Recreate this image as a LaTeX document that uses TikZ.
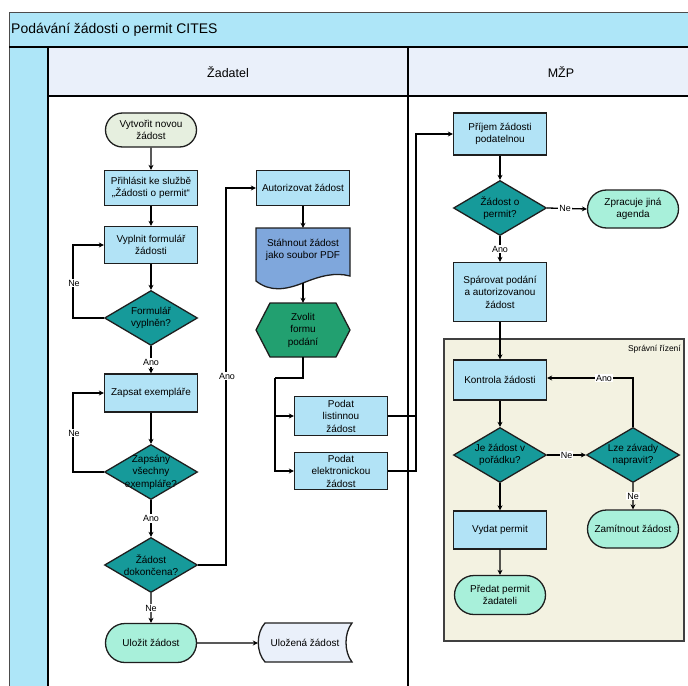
\documentclass[tikz,border=0pt]{standalone}
\usepackage{fontspec}
\setmainfont{Liberation Sans}
\usetikzlibrary{shapes.geometric,shapes.misc,arrows.meta}
\definecolor{titlebg}{HTML}{AEE6F8}
\definecolor{headbg}{HTML}{EAF0FA}
\definecolor{procfill}{HTML}{B2E3F6}
\definecolor{decfill}{HTML}{169A9A}
\definecolor{termfill}{HTML}{A8F0DA}
\definecolor{startfill}{HTML}{E6EFDF}
\definecolor{docfill}{HTML}{7FA7DC}
\definecolor{hexfill}{HTML}{22A070}
\definecolor{storefill}{HTML}{EAF0FA}
\definecolor{contfill}{HTML}{F3F2E1}
\definecolor{edge}{HTML}{1E1E1E}
\tikzset{
  txt/.style={align=center, font=\fontsize{10}{12.5}\selectfont, inner sep=1bp},
  base/.style={txt, draw=edge, line width=1.3bp},
  proc/.style={base, rectangle, fill=procfill, minimum width=93bp, minimum height=#1},
  proc/.default=37bp,
  term/.style={base, rounded rectangle, fill=termfill, minimum width=93bp, minimum height=#1},
  term/.default=38bp,
  dec/.style={draw=edge, line width=1.3bp, diamond, fill=decfill, minimum width=93bp, minimum height=55bp, aspect=1.7, inner sep=0bp},
  shapebox/.style={txt, minimum width=94bp, minimum height=#1},
  arr/.style={-{Stealth[length=5bp,width=5bp]}, line width=1.3bp, draw=black},
  lab/.style={fill=white, inner sep=1bp, font=\fontsize{9}{10}\selectfont},
  lane/.style={black, line width=1.3bp}
}
\begin{document}
\begin{tikzpicture}[x=1bp,y=-1bp]
\useasboundingbox (0,0) rectangle (688,686);
\clip (0,0) rectangle (688,686);
\fill[white] (0,0) rectangle (688,686);
% pool and lanes
\draw[fill=titlebg, draw=gray!60!black, line width=1bp] (9,13) rectangle (700,47);
\fill[titlebg] (9,47) rectangle (48,700);
\fill[headbg] (48,47) rectangle (700,96);
\draw[gray!60!black, line width=1bp] (9,13) -- (9,700);
\draw[black, line width=2bp] (9,47) -- (700,47);
\draw[lane] (48,47) -- (48,700);
\draw[lane] (48,96) -- (700,96);
\draw[lane] (408,47) -- (408,700);
\node[anchor=west, font=\fontsize{14}{16}\selectfont, inner sep=1bp] (title) at (10,30) {Podávání žádosti o permit CITES};
\node[font=\fontsize{12.5}{14}\selectfont] (lane1) at (228,72) {Žadatel};
\node[font=\fontsize{12.5}{14}\selectfont] (lane2) at (561,72) {MŽP};
% container
\draw[fill=contfill, draw=edge!85, line width=1.2bp] (444,339) rectangle (684,641);
\node[anchor=north east, font=\fontsize{8.5}{9}\selectfont, inner sep=1bp] (sr) at (682,344) {Správní řízení};

% Applicant lane
\node[term=34bp, fill=startfill] (start) at (151,130) {Vytvořit novou\\žádost};
\node[proc=35bp] (login) at (151,188) {Přihlásit ke službě\\„Žádosti o permit“};
\node[proc] (fill) at (151,245) {Vyplnit formulář\\žádosti};
\node[dec] (d1) at (151,318) {};
\node[txt] (d1t) at (d1.center) {Formulář\\vyplněn?};
\node[proc=38bp] (spec) at (151,393) {Zapsat exempláře};
\node[dec] (d2) at (151,472) {};
\node[txt] (d2t) at (d2.center) {Zapsány\\všechny\\exempláře?};
\node[dec] (d3) at (151,565) {};
\node[txt] (d3t) at (d3.center) {Žádost\\dokončena?};
\node[term=39bp] (save) at (151,643) {Uložit žádost};
% stored data
\draw[fill=storefill, draw=edge, line width=1.3bp] (265,623) -- (352,623) .. controls (344,633) and (344,652) .. (352,662) -- (265,662) .. controls (256,652) and (256,633) .. (265,623) -- cycle;
\node[shapebox=39bp] (store) at (305,643) {Uložená žádost};

\node[proc=35bp] (auth) at (303,188) {Autorizovat žádost};
% document
\draw[fill=docfill, draw=edge, line width=1.3bp] (256,228) -- (350,228) -- (350,276) .. controls (335,272) and (320,276) .. (303,283) .. controls (285,290) and (270,292) .. (256,281) -- cycle;
\node[shapebox=44bp] (doc) at (303,250) {Stáhnout žádost\\jako soubor PDF};
\coordinate (docb) at (303,283);
% hexagon
\draw[fill=hexfill, draw=edge, line width=1.3bp] (256,330) -- (270,303) -- (336,303) -- (350,330) -- (336,357) -- (270,357) -- cycle;
\node[shapebox=54bp] (hex) at (303,330) {Zvolit\\formu\\podání};
\node[proc=39bp] (paper) at (341,416) {Podat\\listinnou\\žádost};
\node[proc=37bp] (elec) at (341,471) {Podat\\elektronickou\\žádost};
\coordinate (split) at (275,378);
\coordinate (merge) at (416,416);

% MZP lane
\node[proc=42bp] (recv) at (500,134) {Příjem žádosti\\podatelnou};
\node[dec] (d4) at (500,208) {};
\node[txt] (d4t) at (d4.center) {Žádost o\\permit?};
\node[term=38bp] (other) at (633,209) {Zpracuje jiná\\agenda};
\node[proc=59bp] (pair) at (500,292) {Spárovat podání\\a autorizovanou\\žádost};
\node[proc=40bp] (check) at (500,380) {Kontrola žádosti};
\node[dec] (d5) at (500,455) {};
\node[txt] (d5t) at (d5.center) {Je žádost v\\pořádku?};
\node[dec] (d6) at (633,455) {};
\node[txt] (d6t) at (d6.center) {Lze závady\\napravit?};
\node[term=38bp] (reject) at (633,529) {Zamítnout žádost};
\node[proc=38bp] (issue) at (500,530) {Vydat permit};
\node[term=39bp] (hand) at (500,595) {Předat permit\\žadateli};

% connectors applicant
\draw[arr] (start) -- (login);
\draw[arr] (login) -- (fill);
\draw[arr] (fill) -- (d1);
\draw[arr] (d1) -- (spec) node[lab, pos=0.6] {Ano};
\draw[arr] (d1.west) -- (73,318) |- (fill.west);
\node[lab] (ne1) at (74,283) {Ne};
\draw[arr] (spec) -- (d2);
\draw[arr] (d2.west) -- (73,472) |- (spec.west);
\node[lab] (ne2) at (74,433) {Ne};
\draw[arr] (d2) -- (d3) node[lab, pos=0.5] {Ano};
\draw[arr] (d3) -- (save) node[lab, pos=0.5] {Ne};
\draw[arr] (d3.east) -- (226,565) |- (auth.west);
\node[lab] (ano3) at (227,376) {Ano};
\draw[arr] (save) -- (store.west);
\draw[arr] (auth) -- (doc.north);
\draw[arr] (docb) -- (hex.north);
\draw[line width=1.3bp] (hex.south) -- (303,378) -- (split);
\draw[arr] (split) |- (paper.west);
\draw[arr] (split) |- (elec.west);
\draw[arr] (paper.east) -- (merge) |- (recv.west);
\draw[line width=1.3bp] (elec.east) -- (416,471) -- (merge);

% connectors MZP
\draw[arr] (recv) -- (d4);
\draw[arr] (d4.east) -- (other.west) node[lab, pos=0.45] {Ne};
\draw[arr] (d4) -- (pair) node[lab, pos=0.5] {Ano};
\draw[arr] (pair) -- (check);
\draw[arr] (check) -- (d5);
\draw[arr] (d5.east) -- (d6.west) node[lab, pos=0.5] {Ne};
\draw[arr] (d6.north) -- (633,378) -- (check.east |- 0,378);
\node[lab] (ano6) at (604,378) {Ano};
\draw[arr] (d6) -- (reject) node[lab, pos=0.5] {Ne};
\draw[arr] (d5) -- (issue);
\draw[arr] (issue) -- (hand);
\end{tikzpicture}
\end{document}
